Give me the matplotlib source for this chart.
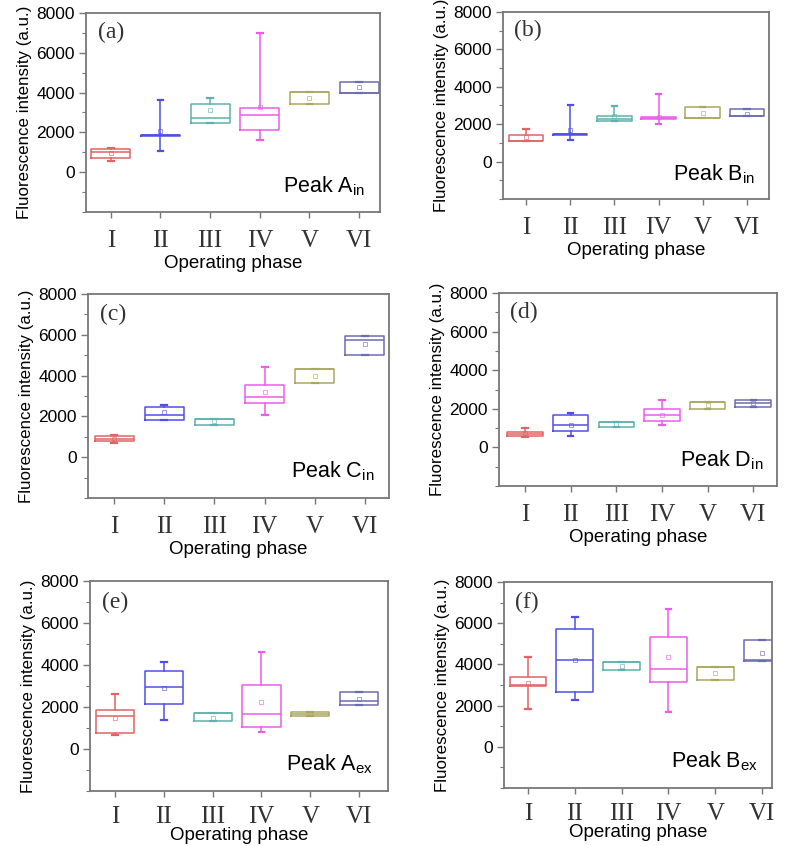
import matplotlib.pyplot as plt
from matplotlib.ticker import FixedLocator

# phases on the x axis
phases = ["I", "II", "III", "IV", "V", "VI"]
colors = ["#e06464", "#4f4fe6", "#5fb0ae", "#ec5cec", "#a9a862", "#6c6cb0"]

# box statistics per phase: [whisker low, q1, median, q3, whisker high, mean]
peak_a_in = [[540, 710, 1010, 1180, 1230, 960],
             [1060, 1830, 1850, 1870, 3650, 2070],
             [2490, 2490, 2710, 3450, 3740, 3110],
             [1600, 2100, 2860, 3250, 6990, 3300],
             [3430, 3430, 4010, 4010, 4010, 3740],
             [3960, 3960, 3960, 4550, 4550, 4260]]
peak_b_in = [[1080, 1080, 1100, 1400, 1740, 1300],
             [1170, 1440, 1456, 1470, 3000, 1710],
             [2160, 2160, 2300, 2460, 2970, 2460],
             [2010, 2280, 2330, 2380, 3600, 2400],
             [2340, 2340, 2340, 2910, 2910, 2610],
             [2430, 2430, 2430, 2820, 2820, 2550]]
peak_c_in = [[690, 770, 880, 1020, 1070, 890],
             [1810, 1840, 2090, 2470, 2580, 2200],
             [1560, 1560, 1870, 1870, 1870, 1760],
             [2050, 2660, 2940, 3550, 4420, 3190],
             [3650, 3650, 4300, 4300, 4300, 3980],
             [5000, 5000, 5730, 5950, 5950, 5540]]
peak_d_in = [[560, 610, 710, 820, 990, 730],
             [570, 870, 1180, 1690, 1770, 1180],
             [1040, 1040, 1340, 1340, 1340, 1220],
             [1170, 1360, 1670, 1970, 2470, 1700],
             [2000, 2000, 2350, 2350, 2350, 2210],
             [2090, 2090, 2300, 2470, 2470, 2300]]
peak_a_ex = [[650, 780, 1550, 1870, 2630, 1500],
             [1390, 2150, 2930, 3700, 4160, 2900],
             [1310, 1310, 1710, 1710, 1710, 1500],
             [830, 1050, 1670, 3050, 4610, 2260],
             [1580, 1580, 1660, 1740, 1740, 1660],
             [2100, 2100, 2300, 2710, 2710, 2380]]
peak_b_ex = [[1820, 2960, 2990, 3370, 4340, 3090],
             [2280, 2670, 4210, 5720, 6290, 4210],
             [3740, 3740, 4130, 4130, 4130, 3940],
             [1710, 3150, 3770, 5320, 6700, 4370],
             [3240, 3240, 3850, 3850, 3850, 3560],
             [4160, 4160, 4210, 5200, 5200, 4540]]

panels = [("(a)", r"Peak A$_{\mathregular{in}}$", peak_a_in),
          ("(b)", r"Peak B$_{\mathregular{in}}$", peak_b_in),
          ("(c)", r"Peak C$_{\mathregular{in}}$", peak_c_in),
          ("(d)", r"Peak D$_{\mathregular{in}}$", peak_d_in),
          ("(e)", r"Peak A$_{\mathregular{ex}}$", peak_a_ex),
          ("(f)", r"Peak B$_{\mathregular{ex}}$", peak_b_ex)]

# axes boxes in pixels (left, right, top, bottom) and x limits
W, H = 787, 846
boxes = [(86, 380, 13, 212), (503, 769, 12, 199),
         (88, 389, 294, 498), (499, 777, 293, 486),
         (90, 388, 581, 791), (504, 772, 582, 788)]
xlims = [(0.5, 6.42), (0.48, 6.5), (0.48, 6.48), (0.43, 6.52), (0.49, 6.59), (0.49, 6.21)]

plt.rcParams["font.family"] = ["Liberation Sans", "DejaVu Sans"]
fig = plt.figure(figsize=(W / 100, H / 100), dpi=100)
spine_c = "#777777"

for k, ((tag, peak, rows), (l, r, t, b), xl) in enumerate(zip(panels, boxes, xlims)):
    ax = fig.add_axes([l / W, 1 - b / H, (r - l) / W, (b - t) / H])
    for i, row in enumerate(rows):
        st = dict(whislo=row[0], q1=row[1], med=row[2], q3=row[3],
                  whishi=row[4], mean=row[5], fliers=[])
        c = colors[i]
        ax.bxp([st], positions=[i + 1], widths=0.78, capwidths=0.12,
               showmeans=True, showfliers=False,
               boxprops=dict(color=c, lw=1.1),
               medianprops=dict(color=c, lw=1.1),
               whiskerprops=dict(color=c, lw=1.1),
               capprops=dict(color=c, lw=1.6),
               meanprops=dict(marker="s", markersize=3.5, mfc="none",
                              mec=c, mew=0.6, alpha=0.7))
    ax.set_xlim(*xl)
    ax.set_ylim(-2000, 8000)
    ax.set_yticks([0, 2000, 4000, 6000, 8000])
    ax.yaxis.set_minor_locator(FixedLocator([-2000, -1000, 1000, 3000, 5000, 7000]))
    ax.set_xticks(range(1, 7))
    ax.set_xticklabels(phases, fontfamily="Liberation Serif", fontsize=18,
                       color="#333333")
    ax.tick_params(axis="y", labelsize=12.5, direction="out", length=5,
                   width=1, color=spine_c, pad=3)
    ax.tick_params(axis="y", which="minor", direction="out", length=3,
                   width=0.8, color=spine_c)
    bottom_row = k >= 4
    ax.tick_params(axis="x", direction="out", length=4, width=1,
                   color=spine_c, pad=7 if bottom_row else 9)
    for s in ax.spines.values():
        s.set_color(spine_c)
        s.set_linewidth(1.3)
    ax.set_ylabel("Fluorescence intensity (a.u.)", fontsize=12.2, labelpad=3)
    ax.set_xlabel("Operating phase", fontsize=13.5,
                  labelpad=-1 if bottom_row else 2)
    ax.text(0.04, 0.9, tag, transform=ax.transAxes, fontsize=17,
            fontfamily="Liberation Serif", ha="left", va="center",
            color="#333333")
    ax.text(0.95, 0.1, peak, transform=ax.transAxes, fontsize=15.5,
            ha="right", va="baseline")

fig.savefig("out.png", dpi=100)
